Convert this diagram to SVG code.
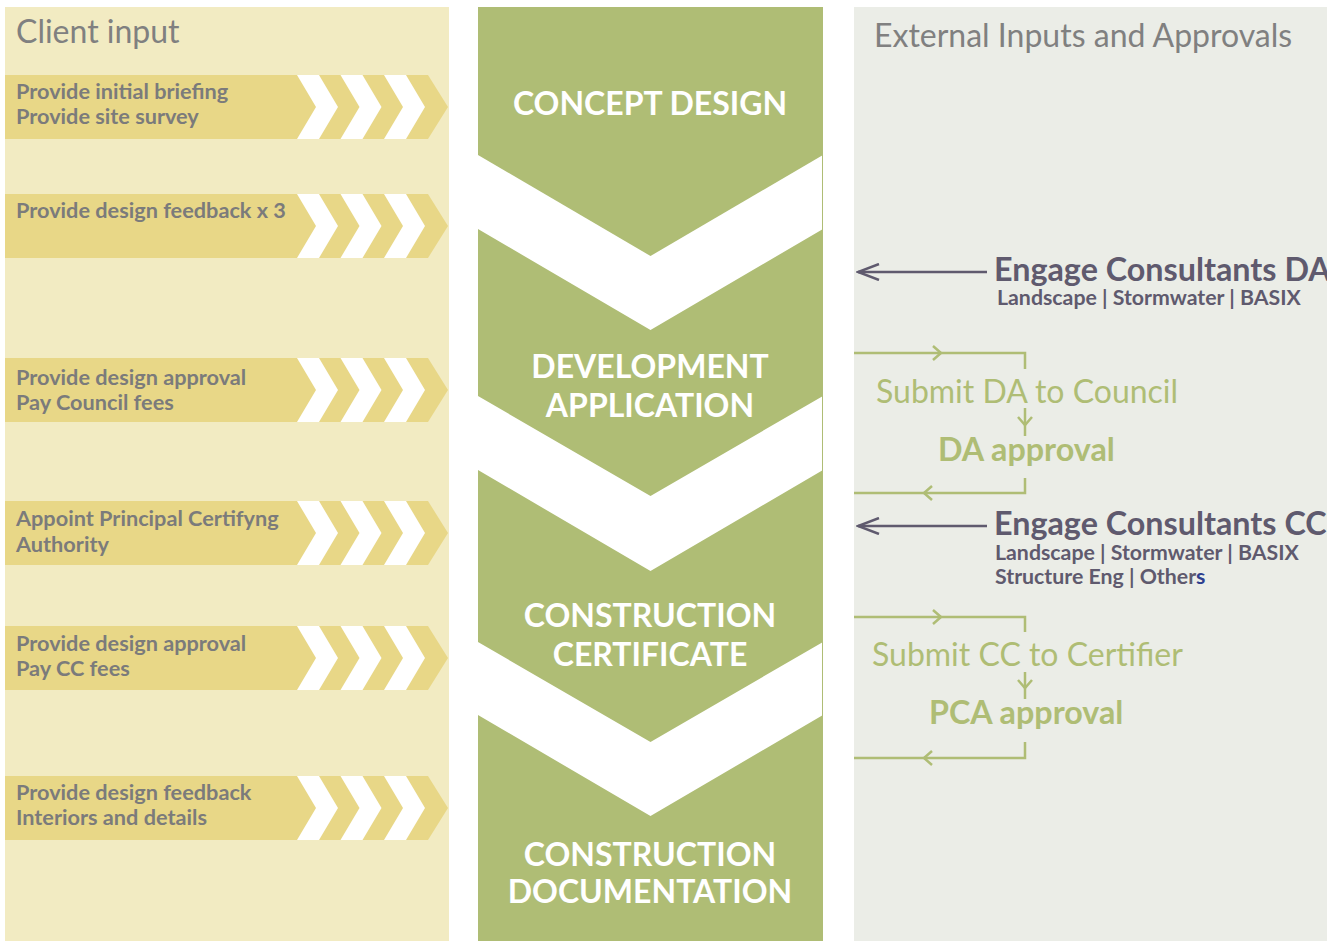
<svg xmlns="http://www.w3.org/2000/svg" width="1327" height="941" viewBox="0 0 1327 941">
<style>
.bar{fill:#E8D787}
.chev{fill:#FFFFFF}
.ctext{font-family:Lato,"Liberation Sans",sans-serif;font-weight:700;font-size:21.7px;fill:#7B7B7B}
.title{font-family:Lato,"Liberation Sans",sans-serif;font-weight:400;font-size:32px;fill:#808080}
.phase{fill:#AFBD75}
.ptext{font-family:Lato,"Liberation Sans",sans-serif;font-weight:700;font-size:32px;fill:#FFFFFF;text-anchor:middle}
.eng{font-family:Lato,"Liberation Sans",sans-serif;font-weight:700;font-size:32.3px;fill:#5F5A6E}
.sub{font-family:Lato,"Liberation Sans",sans-serif;font-weight:700;font-size:21.3px;fill:#5F5A6E}
.submit{font-family:Lato,"Liberation Sans",sans-serif;font-weight:400;font-size:32px;fill:#AFBD75}
.appr{font-family:Lato,"Liberation Sans",sans-serif;font-weight:700;font-size:32.3px;fill:#AFBD75}
.gline{fill:none;stroke:#AFBD75;stroke-width:2.5}
.pline{fill:none;stroke:#5F5A6E;stroke-width:2.5}
</style>
<defs>
<g id="arrowbar">
<path class="bar" d="M0,0 H423 L443,32 L423,64 H0 Z"/>
<path class="chev" d="M292,0 H314 L333,32 L314,64 H292 L311,32 Z"/>
<path class="chev" d="M335.5,0 H357.5 L376.5,32 L357.5,64 H335.5 L354.5,32 Z"/>
<path class="chev" d="M379,0 H401 L420,32 L401,64 H379 L398,32 Z"/>
</g>
<marker id="gh" markerUnits="userSpaceOnUse" markerWidth="12" markerHeight="16" refX="8" refY="7" orient="auto" viewBox="-1 -1 12 16">
<path d="M0,0 L8,7 L0,14" fill="none" stroke="#AFBD75" stroke-width="2.5"/>
</marker>
<marker id="ph" markerUnits="userSpaceOnUse" markerWidth="24" markerHeight="18" refX="21" refY="8" orient="auto" viewBox="-1 -1 24 18">
<path d="M0,0 L21,8 L0,16" fill="none" stroke="#5F5A6E" stroke-width="2.5"/>
</marker>
</defs>

<g id="panels">
<rect x="5" y="7" width="444" height="934" fill="#F2EBC2"/>
<rect x="854" y="7" width="473" height="934" fill="#EBEDE7"/>
</g>

<g id="client-input">
<text class="title" x="16" y="43">Client input</text>
<g id="c1"><use href="#arrowbar" x="5" y="75"/><text class="ctext" x="16" y="99">Provide initial briefing</text><text class="ctext" x="16" y="124">Provide site survey</text></g>
<g id="c2"><use href="#arrowbar" x="5" y="194"/><text class="ctext" x="16" y="218">Provide design feedback x 3</text></g>
<g id="c3"><use href="#arrowbar" x="5" y="358"/><text class="ctext" x="16" y="385">Provide design approval</text><text class="ctext" x="16" y="410">Pay Council fees</text></g>
<g id="c4"><use href="#arrowbar" x="5" y="501"/><text class="ctext" x="16" y="526">Appoint Principal Certifyng</text><text class="ctext" x="16" y="552">Authority</text></g>
<g id="c5"><use href="#arrowbar" x="5" y="626"/><text class="ctext" x="16" y="651">Provide design approval</text><text class="ctext" x="16" y="676">Pay CC fees</text></g>
<g id="c6"><use href="#arrowbar" x="5" y="776"/><text class="ctext" x="16" y="800">Provide design feedback</text><text class="ctext" x="16" y="825">Interiors and details</text></g>
</g>

<g id="phases">
<line x1="822.5" y1="7" x2="822.5" y2="941" stroke="#AFBD75" stroke-width="1"/>
<g id="p1"><path class="phase" d="M478,7 H823 V155 L650.5,256 L478,155 Z"/><text class="ptext" x="650" y="115">CONCEPT DESIGN</text></g>
<g id="p2"><path class="phase" d="M478,229 L650.5,330 L823,229 V396 L650.5,496 L478,396 Z"/><text class="ptext" x="650" y="378">DEVELOPMENT</text><text class="ptext" x="650" y="417">APPLICATION</text></g>
<g id="p3"><path class="phase" d="M478,470 L650.5,571 L823,470 V642 L650.5,742 L478,642 Z"/><text class="ptext" x="650" y="627">CONSTRUCTION</text><text class="ptext" x="650" y="666">CERTIFICATE</text></g>
<g id="p4"><path class="phase" d="M478,715 L650.5,816 L823,715 V941 H478 Z"/><text class="ptext" x="650" y="866">CONSTRUCTION</text><text class="ptext" x="650" y="903">DOCUMENTATION</text></g>
</g>

<g id="external">
<text class="title" x="874" y="47">External Inputs and Approvals</text>
<g id="engage-da"><text class="eng" x="994" y="281">Engage Consultants DA</text><text class="sub" x="997" y="305">Landscape | Stormwater | BASIX</text></g>
<g id="submit-da"><text class="submit" x="876" y="403">Submit DA to Council</text></g>
<g id="da-approval"><text class="appr" x="938" y="461">DA approval</text></g>
<g id="engage-cc"><text class="eng" x="994" y="535">Engage Consultants CC</text><text class="sub" x="995" y="560">Landscape | Stormwater | BASIX</text><text class="sub" x="995" y="584">Structure Eng | Other<tspan fill="#2E3F8F">s</tspan></text></g>
<g id="submit-cc"><text class="submit" x="872" y="666">Submit CC to Certifier</text></g>
<g id="pca-approval"><text class="appr" x="929" y="724">PCA approval</text></g>
</g>

<g id="connectors">
<path class="pline" d="M987,272 H858" marker-end="url(#ph)"/>
<path class="pline" d="M987,526 H858" marker-end="url(#ph)"/>
<path class="gline" d="M854,353 H941" marker-end="url(#gh)"/>
<path class="gline" d="M940,353 H1025 V369"/>
<path class="gline" d="M1025,408 V425" marker-end="url(#gh)"/>
<path class="gline" d="M1025,424 V436"/>
<path class="gline" d="M1025,478 V493 H924" marker-end="url(#gh)"/>
<path class="gline" d="M925,493 H854"/>
<path class="gline" d="M854,617 H941" marker-end="url(#gh)"/>
<path class="gline" d="M940,617 H1025 V632"/>
<path class="gline" d="M1025,672 V688" marker-end="url(#gh)"/>
<path class="gline" d="M1025,687 V699"/>
<path class="gline" d="M1025,742 V758 H924" marker-end="url(#gh)"/>
<path class="gline" d="M925,758 H854"/>
</g>
</svg>
